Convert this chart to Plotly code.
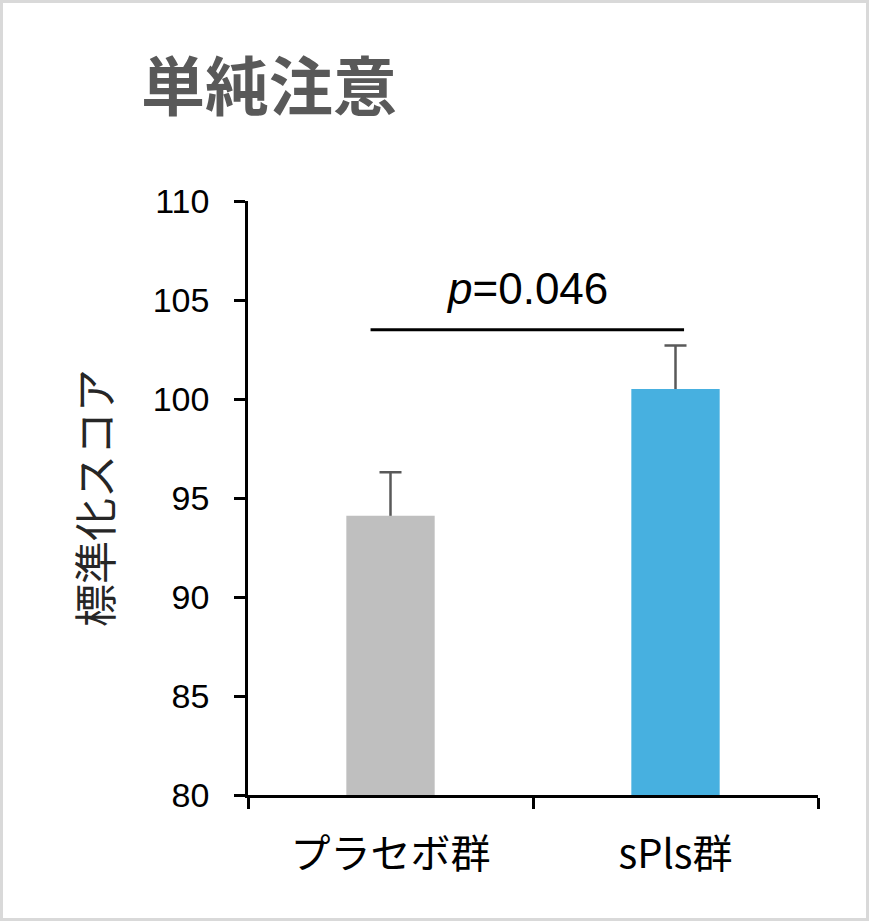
import plotly.graph_objects as go

# Data
groups = ["プラセボ群", "sPls群"]
means = [94.1, 100.5]
err = [2.2, 2.2]
bar_colors = ["#BFBFBF", "#47B0E0"]
y_ticks = [80, 85, 90, 95, 100, 105, 110]
sig_x = [-0.07, 1.03]
sig_y = 103.5
p_label = "<i>p</i>=0.046"

W, H = 869, 921
M = dict(l=248, r=51, t=201, b=126)

fig = go.Figure()
# error bars on an invisible copy, so the real bars drawn after hide the lower half
fig.add_trace(go.Bar(
    x=groups, y=means, width=0.31,
    marker=dict(color="rgba(0,0,0,0)", line=dict(width=0)),
    error_y=dict(type="data", array=err, color="#595959", thickness=2.5, width=11),
    showlegend=False, hoverinfo="skip",
))
fig.add_trace(go.Bar(
    x=groups, y=means, width=0.31,
    marker=dict(color=bar_colors, line=dict(width=0)),
    showlegend=False,
))

# significance bracket
fig.add_shape(type="line", xref="x", yref="y", x0=sig_x[0], x1=sig_x[1], y0=sig_y, y1=sig_y,
              line=dict(color="black", width=3))
fig.add_annotation(x=sum(sig_x) / 2, y=sig_y, xref="x", yref="y", text=p_label, showarrow=False,
                   yanchor="bottom", yshift=15, font=dict(family="Liberation Sans", size=44, color="black"))

# light grey frame round the picture
pw = W - M["l"] - M["r"]
ph = H - M["t"] - M["b"]
fig.add_shape(type="rect", xref="paper", yref="paper", layer="below",
              x0=-(M["l"] - 1.5) / pw, x1=1 + (M["r"] - 1.5) / pw,
              y0=-(M["b"] - 1.5) / ph, y1=1 + (M["t"] - 1.5) / ph,
              line=dict(color="#D9D9D9", width=3))

fig.update_layout(
    width=W, height=H, margin=M, barmode="overlay",
    plot_bgcolor="white", paper_bgcolor="white",
    title=dict(text="<b>単純注意</b>", xref="container", yref="container",
               x=141 / W, xanchor="left", y=1 - 88 / H, yanchor="middle",
               font=dict(family="Noto Sans CJK JP", size=64, color="#595959")),
    xaxis=dict(range=[-0.5, 1.5], showline=True, linecolor="black", linewidth=2.5,
               ticks="outside", tickson="boundaries", ticklen=11, tickwidth=2.5, tickcolor="black",
               tickfont=dict(family="Noto Sans CJK JP", size=40, color="black"),
               ticklabelstandoff=22,
               showgrid=False, zeroline=False),
    yaxis=dict(range=[80, 110], tickvals=y_ticks, showline=True, linecolor="black", linewidth=2.5,
               ticks="outside", ticklen=11, tickwidth=2.5, tickcolor="black",
               tickfont=dict(family="Liberation Sans", size=34, color="black"),
               ticklabelstandoff=18,
               title=dict(text="標準化スコア", standoff=27,
                          font=dict(family="Noto Sans CJK JP", size=43, color="#262626")),
               showgrid=False, zeroline=False),
)

# drop the default page margin so the figure sits at the window's corner
fig.write_html("out.html", config={"displayModeBar": False},
               post_script="document.body.style.margin='0';")
